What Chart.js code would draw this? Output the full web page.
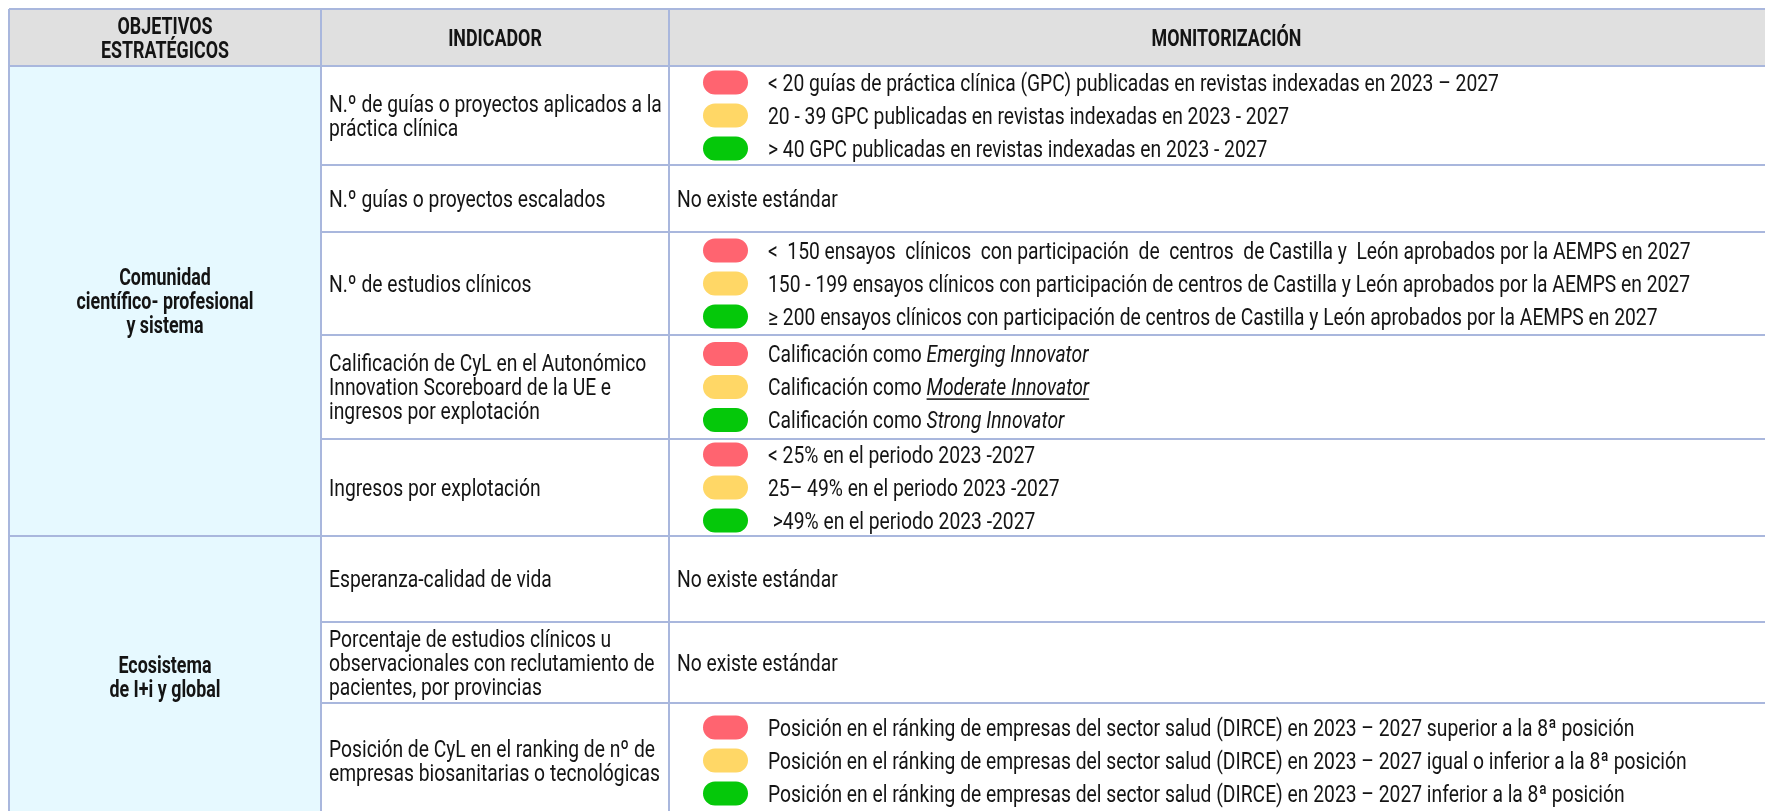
<!DOCTYPE html>
<html><head><meta charset="utf-8">
<script src="https://cdn.jsdelivr.net/npm/chart.js@4.4.1/dist/chart.umd.min.js"></script>
<style>html,body{margin:0;padding:0;background:#fff;overflow:hidden}canvas{display:block}</style>
</head><body><canvas id="c" width="1765" height="811"></canvas>
<script>
// ---------- DATA ----------
const headers = ['OBJETIVOS\nESTRATÉGICOS', 'INDICADOR', 'MONITORIZACIÓN'];
const objetivos = ['Comunidad\ncientífico- profesional\ny sistema', 'Ecosistema\nde I+i y global'];
const objetivoSpan = [5, 3];
const indicadores = [
  'N.º de guías o proyectos aplicados a la\npráctica clínica',
  'N.º guías o proyectos escalados',
  'N.º de estudios clínicos',
  'Calificación de CyL en el Autonómico\nInnovation Scoreboard de la UE e\ningresos por explotación',
  'Ingresos por explotación',
  'Esperanza-calidad de vida',
  'Porcentaje de estudios clínicos u\nobservacionales con reclutamiento de\npacientes, por provincias',
  'Posición de CyL en el ranking de nº de\nempresas biosanitarias o tecnológicas'
];
const niveles = ['rojo', 'amarillo', 'verde'];
const sinEstandar = 'No existe estándar';
const monitorizacion = [
  ['< 20 guías de práctica clínica (GPC) publicadas en revistas indexadas en 2023 – 2027',
   '20 - 39 GPC publicadas en revistas indexadas en 2023 - 2027',
   '> 40 GPC publicadas en revistas indexadas en 2023 - 2027'],
  null,
  ['<  150 ensayos  clínicos  con participación  de  centros  de Castilla y  León aprobados por la AEMPS en 2027',
   '150 - 199 ensayos clínicos con participación de centros de Castilla y León aprobados por la AEMPS en 2027',
   '≥ 200 ensayos clínicos con participación de centros de Castilla y León aprobados por la AEMPS en 2027'],
  ['Calificación como *Emerging Innovator*',
   'Calificación como _Moderate Innovator_',
   'Calificación como *Strong Innovator*'],
  ['< 25% en el periodo 2023 -2027',
   '25– 49% en el periodo 2023 -2027',
   ' >49% en el periodo 2023 -2027'],
  null,
  null,
  ['Posición en el ránking de empresas del sector salud (DIRCE) en 2023 – 2027 superior a la 8ª posición',
   'Posición en el ránking de empresas del sector salud (DIRCE) en 2023 – 2027 igual o inferior a la 8ª posición',
   'Posición en el ránking de empresas del sector salud (DIRCE) en 2023 – 2027 inferior a la 8ª posición']
];

// ---------- LAYOUT / STYLE ----------
const W = 1765, H = 811;
const COLX = [9, 321, 669, 1784];
const TOP = 9, HEADER_H = 57;
const ROW_H = [99, 67, 103, 104, 97, 86, 81, 115];
const LINE_H = 24, PILL_STEP = 33, PILL_W = 45, PILL_H = 24, PILL_X = 703;
const IND_TX = 329, MON_TX = 677, PILL_TX = 768;
const FONT = 'Roboto', FS = 23.5, SX = 0.82, SXB = 0.76;
const levelColors = ['#FF6470', '#FFD766', '#05C80A'];
const BORDER = '#A9B7DD', HEAD_BG = '#E0E0E0', OBJ_BG = '#E6F9FF', TXT = '#141414';

const rowTop = [];
{ let y = TOP + HEADER_H; ROW_H.forEach(h => { rowTop.push(y); y += h; }); rowTop.push(y); }
const rowMid = i => rowTop[i] + ROW_H[i] / 2;
const pillY = (i, k) => rowMid(i) + (k - 1) * PILL_STEP;

function drawTxt(ctx, s, x, cy, opts = {}) {
  const bold = opts.bold, sx = bold ? SXB : SX;
  ctx.font = (bold ? 'bold ' : '') + FS + 'px ' + FONT;
  const base = cy + FS * 0.355;
  ctx.save(); ctx.translate(x, base); ctx.scale(sx, 1);
  ctx.textAlign = opts.align || 'left'; ctx.textBaseline = 'alphabetic';
  ctx.fillText(s, 0, 0); ctx.restore();
}
function drawLines(ctx, str, x, cy, opts) {
  const lines = str.split('\n');
  lines.forEach((l, j) => drawTxt(ctx, l, x, cy + (j - (lines.length - 1) / 2) * LINE_H, opts));
}
function drawRich(ctx, str, x, cy) {
  const parts = str.split(/(\*[^*]+\*|_[^_]+_)/).filter(Boolean);
  const base = cy + FS * 0.355;
  let cx = x;
  for (const p of parts) {
    let t = p, it = false, un = false;
    if (p[0] === '*') { t = p.slice(1, -1); it = true; }
    else if (p[0] === '_') { t = p.slice(1, -1); it = true; un = true; }
    ctx.font = (it ? 'italic ' : '') + FS + 'px ' + FONT;
    const w = ctx.measureText(t).width * SX;
    ctx.save(); ctx.translate(cx, base); ctx.scale(SX, 1);
    ctx.textAlign = 'left'; ctx.textBaseline = 'alphabetic'; ctx.fillText(t, 0, 0); ctx.restore();
    if (un) ctx.fillRect(cx, base + 3, w, 1.5);
    cx += w;
  }
}

const tablePlugin = {
  id: 'tabla',
  beforeDatasetsDraw(chart) {
    const ctx = chart.ctx, xs = chart.scales.x, ys = chart.scales.y;
    const px = v => xs.getPixelForValue(v), py = v => ys.getPixelForValue(v);
    ctx.save();
    ctx.fillStyle = HEAD_BG;
    ctx.fillRect(px(COLX[0]), py(TOP), px(W) - px(COLX[0]), py(TOP + HEADER_H) - py(TOP));
    ctx.fillStyle = OBJ_BG;
    ctx.fillRect(px(COLX[0]), py(rowTop[0]), px(COLX[1]) - px(COLX[0]), py(rowTop[ROW_H.length]) - py(rowTop[0]));
    ctx.strokeStyle = BORDER; ctx.lineWidth = 2;
    const hline = (y, x0, x1) => { ctx.beginPath(); ctx.moveTo(px(x0), py(y)); ctx.lineTo(px(x1), py(y)); ctx.stroke(); };
    const vline = (x, y0, y1) => { ctx.beginPath(); ctx.moveTo(px(x), py(y0)); ctx.lineTo(px(x), py(y1)); ctx.stroke(); };
    hline(TOP, COLX[0], W); hline(TOP + HEADER_H, COLX[0], W);
    let g = 0;
    objetivoSpan.forEach(n => { g += n; hline(rowTop[g], COLX[0], W); });
    rowTop.slice(1, -1).forEach(y => hline(y, COLX[1], W));
    COLX.slice(0, 3).forEach(x => vline(x, TOP, rowTop[ROW_H.length]));
    ctx.restore();
  },
  afterDatasetsDraw(chart) {
    const ctx = chart.ctx, xs = chart.scales.x, ys = chart.scales.y;
    const px = v => xs.getPixelForValue(v), py = v => ys.getPixelForValue(v);
    ctx.save(); ctx.fillStyle = TXT;
    headers.forEach((h, c) => drawLines(ctx, h, px((COLX[c] + COLX[c + 1]) / 2), py(TOP + HEADER_H / 2), { bold: true, align: 'center' }));
    let g = 0;
    objetivos.forEach((o, k) => {
      const y0 = rowTop[g], y1 = rowTop[g + objetivoSpan[k]]; g += objetivoSpan[k];
      drawLines(ctx, o, px((COLX[0] + COLX[1]) / 2), py((y0 + y1) / 2), { bold: true, align: 'center' });
    });
    indicadores.forEach((s, i) => drawLines(ctx, s, px(IND_TX), py(rowMid(i)), {}));
    monitorizacion.forEach((m, i) => {
      if (!m) { drawTxt(ctx, sinEstandar, px(MON_TX), py(rowMid(i))); return; }
      m.forEach((s, k) => drawRich(ctx, s, px(PILL_TX), py(pillY(i, k))));
    });
    ctx.restore();
  }
};

const datasets = niveles.map((nv, k) => ({
  label: nv,
  data: monitorizacion.map((m, i) => m ? { y: pillY(i, k), x: [PILL_X, PILL_X + PILL_W] } : null).filter(Boolean),
  backgroundColor: levelColors[k],
  borderWidth: 0,
  borderRadius: 12,
  borderSkipped: false,
  inflateAmount: 0,
  barThickness: PILL_H,
  grouped: false
}));

new Chart(document.getElementById('c'), {
  type: 'bar',
  data: { datasets },
  options: {
    indexAxis: 'y',
    responsive: false,
    animation: false,
    devicePixelRatio: 1,
    layout: { padding: 0 },
    scales: {
      x: { type: 'linear', min: 0, max: W, display: false, offset: false },
      y: { type: 'linear', min: 0, max: H, reverse: true, display: false, offset: false }
    },
    plugins: { legend: { display: false }, tooltip: { enabled: false } }
  },
  plugins: [tablePlugin]
});
</script>
</body></html>
